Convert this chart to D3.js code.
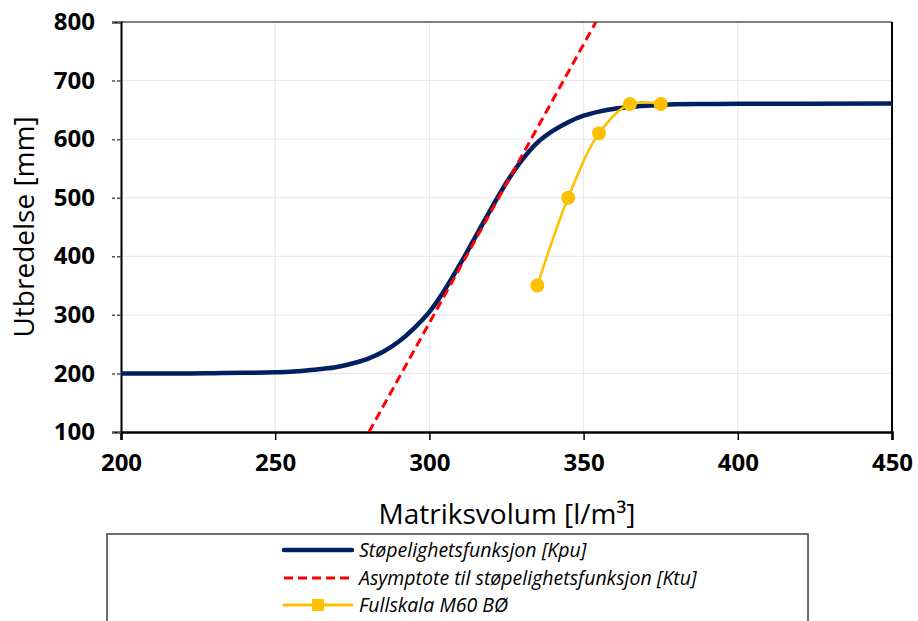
<!DOCTYPE html>
<html>
<head>
<meta charset="utf-8">
<script src="https://cdn.jsdelivr.net/npm/d3@7"></script>
<style>
  html, body { margin: 0; padding: 0; background: #fff; }
  svg { display: block; }
  text { font-family: "Open Sans", "Noto Sans", sans-serif; }
</style>
</head>
<body>
<svg id="chart" width="918" height="621"></svg>
<script>
// Støpelighetsfunksjon (Kpu): matrix volume [l/m3] vs. spread [mm]
const kpuVolum = [200, 210, 220, 230, 240, 250, 255, 260, 265, 270, 275, 280, 285, 290, 295,
                  300, 305, 310, 315, 320, 325, 330, 335, 340, 345, 350, 355, 360, 365, 370,
                  375, 380, 390, 400, 420, 450];
const kpuUtbredelse = [200, 200, 200, 200.5, 201, 202, 203, 205, 207.5, 211, 217, 225, 237, 254, 277,
                       305, 343, 387, 434, 481, 526, 564, 594, 614, 629, 640, 647, 652, 655, 657,
                       658.5, 659.5, 660, 660.5, 660.5, 661];

// Asymptote (Ktu): straight line, two end points
const ktuVolum = [280.4, 354];
const ktuUtbredelse = [100, 800];

// Fullskala M60 BØ measurements
const m60Volum = [335, 345, 355, 365, 375];
const m60Utbredelse = [350, 500, 610, 660, 660];

// Axis ticks
const xTicks = [200, 250, 300, 350, 400, 450];
const yTicks = [100, 200, 300, 400, 500, 600, 700, 800];

const legendLabels = [
  "Støpelighetsfunksjon [Kpu]",
  "Asymptote til støpelighetsfunksjon [Ktu]",
  "Fullskala M60 BØ"
];

const colBlue = "#002060", colRed = "#ff0000", colYellow = "#ffc000";

const svg = d3.select("#chart");
const pLeft = 121, pRight = 892, pTop = 22, pBottom = 432;

const x = d3.scaleLinear().domain([200, 450]).range([pLeft, pRight]);
const y = d3.scaleLinear().domain([100, 800]).range([pBottom, pTop]);

svg.append("defs").append("clipPath").attr("id", "plot-clip")
  .append("rect").attr("x", pLeft).attr("y", pTop)
  .attr("width", pRight - pLeft).attr("height", pBottom - pTop);

// grid
const grid = svg.append("g");
grid.selectAll("line.gx").data(xTicks.slice(1, -1)).join("line")
  .attr("x1", d => x(d)).attr("x2", d => x(d))
  .attr("y1", pTop).attr("y2", pBottom)
  .attr("stroke", "#e6e6e6").attr("stroke-width", 1);
grid.selectAll("line.gy").data(yTicks.slice(1, -1)).join("line")
  .attr("x1", pLeft).attr("x2", pRight)
  .attr("y1", d => y(d)).attr("y2", d => y(d))
  .attr("stroke", "#e6e6e6").attr("stroke-width", 1);

// plot frame (top and right)
svg.append("line").attr("x1", pLeft).attr("x2", pRight).attr("y1", pTop).attr("y2", pTop)
  .attr("stroke", "#555").attr("stroke-width", 1.5);
svg.append("line").attr("x1", pRight).attr("x2", pRight).attr("y1", pTop).attr("y2", pBottom)
  .attr("stroke", "#000").attr("stroke-width", 2);

// axes
const xAxis = d3.axisBottom(x).tickValues(xTicks).tickSize(8).tickPadding(14).tickFormat(d3.format("d"));
const gx = svg.append("g").attr("transform", `translate(0,${pBottom})`).call(xAxis);
gx.select(".domain").attr("stroke", "#000").attr("stroke-width", 2.5);
gx.selectAll(".tick line").attr("stroke", "#000").attr("stroke-width", 1.5);
gx.selectAll(".tick text").attr("font-size", 24).attr("font-weight", 700).attr("fill", "#000")
  .attr("font-family", "'Open Sans', sans-serif");

const yAxis = d3.axisLeft(y).tickValues(yTicks).tickSize(9).tickPadding(17).tickFormat(d3.format("d"));
const gy = svg.append("g").attr("transform", `translate(${pLeft},0)`).call(yAxis);
gy.select(".domain").attr("stroke", "#000").attr("stroke-width", 2);
gy.selectAll(".tick line").attr("stroke", "#555").attr("stroke-width", 1.5).attr("stroke-dasharray", "4,2");
gy.selectAll(".tick text").attr("font-size", 24).attr("font-weight", 700).attr("fill", "#000")
  .attr("font-family", "'Open Sans', sans-serif");

// axis titles
svg.append("text").attr("x", 507).attr("y", 524).attr("text-anchor", "middle")
  .attr("font-size", 28).attr("fill", "#000")
  .text("Matriksvolum [l/m³]");
svg.append("text").attr("transform", `translate(34,${(pTop + pBottom) / 2}) rotate(-90)`)
  .attr("text-anchor", "middle").attr("font-size", 28).attr("fill", "#000")
  .text("Utbredelse [mm]");

// series
const plot = svg.append("g").attr("clip-path", "url(#plot-clip)");

const kpuLine = d3.line().x(d => x(d[0])).y(d => y(d[1])).curve(d3.curveMonotoneX);
plot.append("path").datum(d3.zip(kpuVolum, kpuUtbredelse))
  .attr("d", kpuLine).attr("fill", "none")
  .attr("stroke", colBlue).attr("stroke-width", 4.5).attr("stroke-linejoin", "round");

const ktuLine = d3.line().x(d => x(d[0])).y(d => y(d[1]));
plot.append("path").datum(d3.zip(ktuVolum, ktuUtbredelse))
  .attr("d", ktuLine).attr("fill", "none")
  .attr("stroke", colRed).attr("stroke-width", 3).attr("stroke-dasharray", "9,5");

const m60Line = d3.line().x(d => x(d[0])).y(d => y(d[1])).curve(d3.curveCatmullRom.alpha(0.5));
const m60Data = d3.zip(m60Volum, m60Utbredelse);
svg.append("path").datum(m60Data)
  .attr("d", m60Line).attr("fill", "none")
  .attr("stroke", colYellow).attr("stroke-width", 2.5);
svg.selectAll("circle.m60").data(m60Data).join("circle")
  .attr("cx", d => x(d[0])).attr("cy", d => y(d[1])).attr("r", 7)
  .attr("fill", colYellow);

// legend
const lg = svg.append("g");
lg.append("rect").attr("x", 107).attr("y", 534).attr("width", 701).attr("height", 120)
  .attr("fill", "#fff").attr("stroke", "#404040").attr("stroke-width", 1.5);
const rowY = [550, 578, 605];
const sx0 = 284, sx1 = 352;
lg.append("line").attr("x1", sx0).attr("x2", sx1).attr("y1", rowY[0]).attr("y2", rowY[0])
  .attr("stroke", colBlue).attr("stroke-width", 4.5).attr("stroke-linecap", "round");
lg.append("line").attr("x1", sx0).attr("x2", sx1).attr("y1", rowY[1]).attr("y2", rowY[1])
  .attr("stroke", colRed).attr("stroke-width", 3).attr("stroke-dasharray", "9,5");
lg.append("line").attr("x1", sx0).attr("x2", sx1).attr("y1", rowY[2]).attr("y2", rowY[2])
  .attr("stroke", colYellow).attr("stroke-width", 3).attr("stroke-linecap", "round");
lg.append("rect").attr("x", (sx0 + sx1) / 2 - 6).attr("y", rowY[2] - 6)
  .attr("width", 12).attr("height", 12).attr("fill", colYellow);
lg.selectAll("text.lab").data(legendLabels).join("text")
  .attr("x", 359).attr("y", (d, i) => rowY[i] + 7)
  .attr("font-size", 19.5).attr("font-style", "italic").attr("fill", "#000")
  .text(d => d);
</script>
</body>
</html>
